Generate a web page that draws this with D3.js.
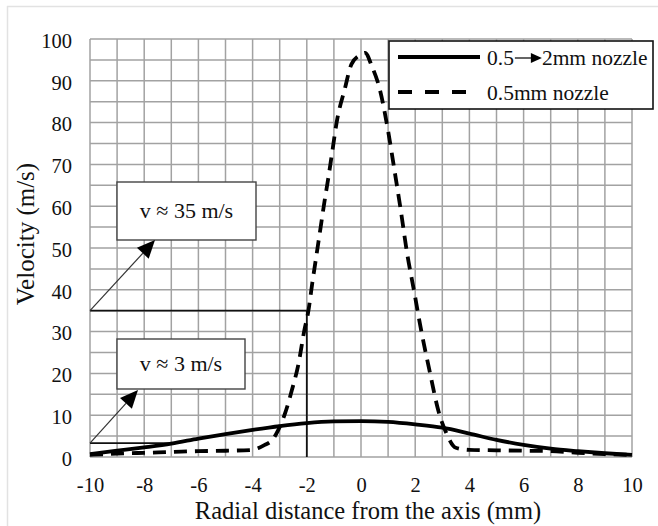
<!DOCTYPE html>
<html><head><meta charset="utf-8">
<script src="https://cdn.jsdelivr.net/npm/d3@7"></script>
<style>
body{margin:0;background:#fff;}
text{font-family:"Liberation Serif","Times New Roman",serif;fill:#111;}
</style></head>
<body>
<svg id="chart" width="658" height="526"></svg>
<script>
// ---- data ----
const xTicks = [-10,-8,-6,-4,-2,0,2,4,6,8,10];
const yTicks = [0,10,20,30,40,50,60,70,80,90,100];
const seriesNames = ["0.5mm nozzle"];
const legendA = "0.5", legendB = "2mm nozzle";
const solidX = [-10,-9,-8,-7,-6,-5,-4,-3,-2,-1,0,1,2,3,4,5,6,7,8,9,10];
const solidV = [0.7,1.5,2.3,3.2,4.4,5.5,6.5,7.4,8.1,8.5,8.6,8.4,7.8,7.0,5.6,4.1,2.9,2.0,1.4,0.9,0.5];
const dashX = [-10,-9,-8,-7,-6,-5,-4,-3.8,-3.55,-3.3,-3.05,-2.8,-2.55,-2.3,-2.1,-1.94,-1.8,-1.65,-1.5,-1.35,-1.2,-1.05,-0.9,-0.6,-0.35,0,0.15,0.4,0.7,1.0,1.25,1.45,1.7,1.95,2.2,2.55,2.85,3.15,3.5,4,5,6,7,8,9,10];
const dashV = [0.5,0.8,1.0,1.2,1.4,1.5,1.7,2.1,2.9,3.9,6.5,10.5,16,22.5,30,35,41.5,48,54.5,61,67,73.5,80,88,94,96.3,96.7,93.5,87.8,78,68,59.8,48.8,40,31,20,11.2,5.7,2.2,1.7,1.6,1.5,1.4,1.0,0.7,0.5];
const markX = -2, markV1 = 35, markV2 = 3.3, markX2 = -7;
const annotations = ["v \u2248 35 m/s", "v \u2248 3 m/s"];
const xTitle = "Radial distance from the axis (mm)";
const yTitle = "Velocity (m/s)";

// ---- layout ----
const svg = d3.select("#chart");
const x = d3.scaleLinear().domain([-10,10]).range([90,632]);
const y = d3.scaleLinear().domain([0,100]).range([457,39]);

// outer frame
svg.append("line").attr("x1",7).attr("x2",658).attr("y1",6.5).attr("y2",6.5).attr("stroke","#e2e2e2").attr("stroke-width",1.5);
svg.append("line").attr("x1",7.5).attr("x2",7.5).attr("y1",6).attr("y2",526).attr("stroke","#e2e2e2").attr("stroke-width",1.5);

// grid
const g = svg.append("g");
g.selectAll(".vg").data(d3.range(-10,10.01,1)).join("line")
 .attr("x1",d=>x(d)).attr("x2",d=>x(d)).attr("y1",y(0)).attr("y2",y(100))
 .attr("stroke","#a2a2a2").attr("stroke-width",1.5);
g.selectAll(".hg").data(d3.range(0,100.01,5)).join("line")
 .attr("y1",d=>y(d)).attr("y2",d=>y(d)).attr("x1",x(-10)).attr("x2",x(10))
 .attr("stroke","#a2a2a2").attr("stroke-width",1.5);

// axes (labels only)
const xAxis = d3.axisBottom(x).tickValues(xTicks).tickSize(0).tickPadding(20).tickFormat(d=>String(d));
const gx = svg.append("g").attr("transform",`translate(0,${y(0)})`).call(xAxis);
gx.select(".domain").remove();
gx.selectAll("text").attr("font-size",20.5).attr("fill","#111").attr("font-family","Liberation Serif");
const yAxis = d3.axisLeft(y).tickValues(yTicks).tickSize(0).tickPadding(18).tickFormat(d=>String(d));
const gy = svg.append("g").attr("transform",`translate(${x(-10)},0)`).call(yAxis);
gy.select(".domain").remove();
gy.selectAll("text").attr("font-size",20.5).attr("fill","#111").attr("font-family","Liberation Serif").attr("dy","0.4em");

svg.append("text").attr("x",368).attr("y",519).attr("text-anchor","middle")
 .attr("font-size",24.5).text(xTitle);
svg.append("text").attr("transform",`translate(34,234) rotate(-90)`).attr("text-anchor","middle")
 .attr("font-size",25).text(yTitle);

// annotation lines
const ann = svg.append("g").attr("stroke","#111").attr("fill","none");
ann.append("line").attr("x1",x(-10)).attr("x2",x(markX)).attr("y1",y(markV1)).attr("y2",y(markV1)).attr("stroke-width",1.8);
ann.append("line").attr("x1",x(markX)).attr("x2",x(markX)).attr("y1",y(markV1)).attr("y2",y(0)).attr("stroke-width",1.8);
ann.append("line").attr("x1",x(-10)).attr("x2",x(markX2)).attr("y1",y(markV2)).attr("y2",y(markV2)).attr("stroke-width",1.8);

// curves
const line = d3.line().x(d=>x(d[0])).y(d=>y(d[1])).curve(d3.curveMonotoneX);
svg.append("path").datum(dashX.map((d,i)=>[d,dashV[i]])).attr("d",line)
 .attr("fill","none").attr("stroke","#000").attr("stroke-width",3.8).attr("stroke-dasharray","13,8");
svg.append("path").datum(solidX.map((d,i)=>[d,solidV[i]])).attr("d",line)
 .attr("fill","none").attr("stroke","#000").attr("stroke-width",3.8);

// arrows and boxes
function arrow(x0,y0,x1,y1){
  const ang = Math.atan2(y1-y0,x1-x0), L=18, W=8;
  const bx = x1 - L*Math.cos(ang), by = y1 - L*Math.sin(ang);
  svg.append("line").attr("x1",x0).attr("y1",y0).attr("x2",bx).attr("y2",by).attr("stroke","#333").attr("stroke-width",1.2);
  const p = [[x1,y1],[bx - W*Math.sin(ang), by + W*Math.cos(ang)],[bx + W*Math.sin(ang), by - W*Math.cos(ang)]];
  svg.append("path").attr("d","M"+p.map(q=>q.join(",")).join("L")+"Z").attr("fill","#000");
}
function box(x0,y0,x1,y1,label){
  svg.append("rect").attr("x",x0).attr("y",y0).attr("width",x1-x0).attr("height",y1-y0)
   .attr("fill","#fff").attr("stroke","#444").attr("stroke-width",1.4);
  svg.append("text").attr("x",(x0+x1)/2).attr("y",(y0+y1)/2+7).attr("text-anchor","middle")
   .attr("font-size",22).text(label);
}
box(117,182,256,240,annotations[0]);
box(117,339,245,389,annotations[1]);
arrow(x(-10),y(markV1),155,240);
arrow(x(-10),y(markV2),138,390);

// legend
const lg = svg.append("g");
lg.append("rect").attr("x",389).attr("y",41).attr("width",264).attr("height",68)
 .attr("fill","#fff").attr("stroke","#111").attr("stroke-width",1.6);
lg.append("line").attr("x1",398).attr("x2",480).attr("y1",57).attr("y2",57).attr("stroke","#000").attr("stroke-width",3.8);
lg.append("line").attr("x1",398).attr("x2",472).attr("y1",92).attr("y2",92).attr("stroke","#000").attr("stroke-width",3.8).attr("stroke-dasharray","14,13");
const a1 = lg.append("text").attr("x",487).attr("y",65).attr("font-size",21.5).text(legendA);
const w1 = a1.node().getComputedTextLength();
const ax0 = 487 + w1 + 1;
lg.append("line").attr("x1",ax0).attr("x2",ax0+17).attr("y1",58).attr("y2",58).attr("stroke","#111").attr("stroke-width",1.3);
lg.append("path").attr("d",`M${ax0+16},53 L${ax0+27},58 L${ax0+16},63 Z`).attr("fill","#000");
lg.append("text").attr("x",ax0+27).attr("y",65).attr("font-size",21.5).text(legendB);
lg.append("text").attr("x",487).attr("y",100).attr("font-size",21.5).text(seriesNames[0]);
</script>
</body></html>
